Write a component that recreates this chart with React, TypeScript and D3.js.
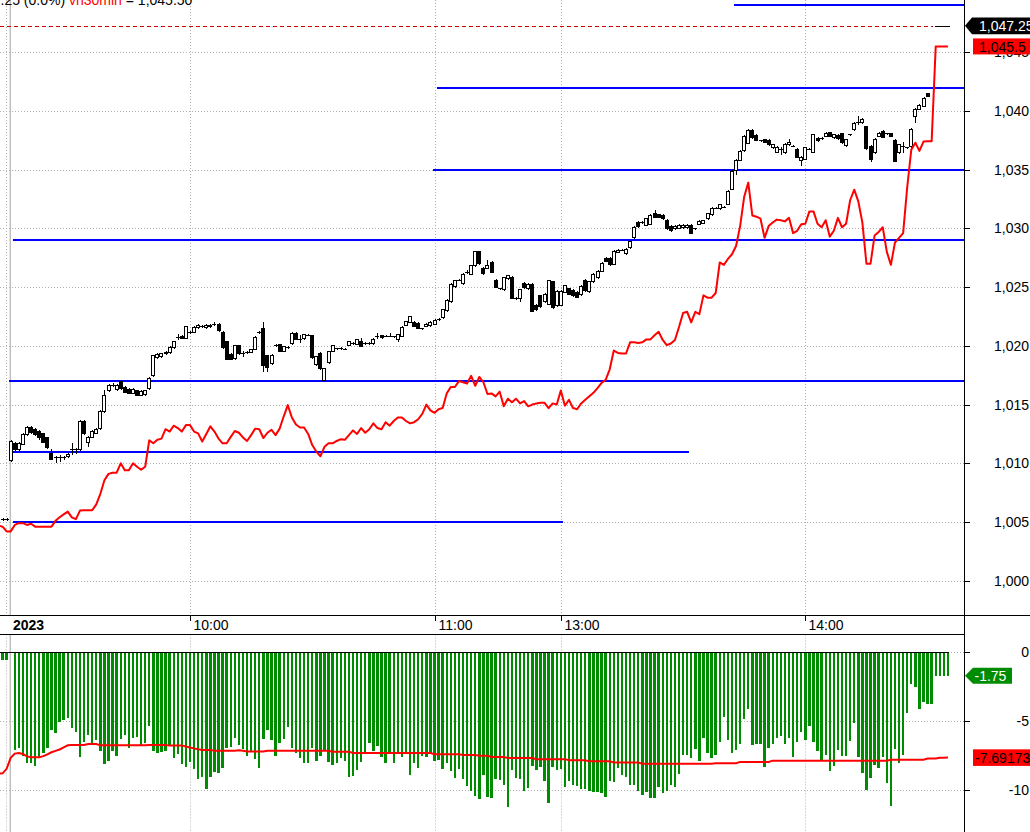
import React from "react";
import * as d3 from "d3";

// ---------- data ----------
const barStart = -2; // index of first candle / histogram bar (previous session bars are negative)
const lineStart = -3; // index of first value of the line series

// [open, high, low, close]
const candles: number[][] = [
  [1005.25, 1005.3, 1005.2, 1005.25],
  [1005.25, 1005.3, 1005.2, 1005.25],
  [1010.3, 1012.0, 1010.2, 1011.9],
  [1011.7, 1011.8, 1011.1, 1011.2],
  [1011.2, 1011.8, 1011.1, 1011.7],
  [1011.65, 1012.6, 1011.6, 1012.5],
  [1012.5, 1013.15, 1012.45, 1013.05],
  [1013.05, 1013.15, 1012.6, 1012.7],
  [1012.9, 1013.0, 1012.45, 1012.5],
  [1012.75, 1012.8, 1012.1, 1012.2],
  [1012.55, 1012.6, 1011.8, 1011.85],
  [1012.2, 1012.25, 1011.3, 1011.4],
  [1010.9, 1011.25, 1010.35, 1010.4],
  [1010.5, 1010.6, 1010.1, 1010.5],
  [1010.5, 1010.7, 1010.2, 1010.5],
  [1010.5, 1010.6, 1010.35, 1010.5],
  [1010.6, 1010.9, 1010.55, 1010.8],
  [1011.2, 1011.7, 1010.8, 1011.2],
  [1011.2, 1011.3, 1010.9, 1011.2],
  [1011.2, 1013.7, 1011.15, 1013.6],
  [1013.6, 1013.65, 1012.5, 1012.55],
  [1011.8, 1012.3, 1011.5, 1012.2],
  [1012.25, 1012.8, 1012.2, 1012.75],
  [1012.6, 1013.0, 1012.55, 1012.95],
  [1013.0, 1014.5, 1012.95, 1014.45],
  [1014.45, 1016.2, 1014.4, 1015.8],
  [1016.2, 1016.75, 1016.15, 1016.7],
  [1016.7, 1016.8, 1016.6, 1016.7],
  [1016.3, 1016.75, 1016.25, 1016.7],
  [1017.0, 1017.1, 1016.35, 1016.4],
  [1016.5, 1016.55, 1016.05, 1016.1],
  [1016.35, 1016.4, 1015.95, 1016.0],
  [1016.0, 1016.4, 1015.95, 1016.35],
  [1016.2, 1016.25, 1015.8, 1015.85],
  [1015.85, 1016.2, 1015.8, 1016.15],
  [1015.9, 1016.25, 1015.85, 1016.2],
  [1016.4, 1017.35, 1016.35, 1017.3],
  [1017.5, 1019.25, 1017.45, 1019.2],
  [1019.05, 1019.35, 1019.0, 1019.3],
  [1019.1, 1019.4, 1019.05, 1019.35],
  [1019.5, 1019.6, 1019.3, 1019.35],
  [1019.45, 1019.95, 1019.4, 1019.9],
  [1019.9, 1020.45, 1019.85, 1020.4],
  [1020.75, 1021.0, 1020.55, 1020.75],
  [1020.85, 1020.9, 1020.65, 1020.7],
  [1020.7, 1021.7, 1020.65, 1021.65],
  [1021.2, 1021.3, 1021.1, 1021.2],
  [1021.2, 1021.65, 1021.15, 1021.6],
  [1021.6, 1021.85, 1021.55, 1021.8],
  [1021.7, 1021.8, 1021.6, 1021.7],
  [1021.6, 1021.85, 1021.55, 1021.8],
  [1021.65, 1021.9, 1021.6, 1021.8],
  [1021.85, 1022.0, 1021.8, 1021.85],
  [1021.9, 1021.95, 1021.3, 1021.35],
  [1021.2, 1021.25, 1019.85, 1019.9],
  [1020.4, 1020.45, 1018.85, 1018.9],
  [1019.3, 1019.35, 1018.85, 1018.9],
  [1018.95, 1020.1, 1018.9, 1020.05],
  [1020.05, 1020.1, 1019.3, 1019.35],
  [1019.35, 1019.55, 1019.15, 1019.35],
  [1019.5, 1019.6, 1019.4, 1019.5],
  [1019.5, 1019.75, 1019.45, 1019.7],
  [1019.75, 1020.8, 1019.7, 1020.75],
  [1021.2, 1021.3, 1021.1, 1021.2],
  [1021.5, 1022.05, 1017.9, 1018.35],
  [1019.2, 1019.25, 1017.9, 1018.2],
  [1018.5, 1019.3, 1018.45, 1019.25],
  [1020.05, 1020.15, 1019.95, 1020.05],
  [1020.15, 1020.2, 1019.55, 1019.6],
  [1019.6, 1020.0, 1019.55, 1019.95],
  [1019.9, 1020.0, 1019.8, 1019.9],
  [1020.25, 1021.15, 1020.2, 1021.1],
  [1021.1, 1021.15, 1020.55, 1020.6],
  [1020.6, 1020.9, 1020.35, 1020.6],
  [1020.65, 1021.05, 1020.6, 1021.0],
  [1020.95, 1021.05, 1020.9, 1020.95],
  [1020.9, 1020.95, 1019.0, 1019.05],
  [1018.45, 1019.15, 1018.4, 1019.1],
  [1019.4, 1019.45, 1018.05, 1018.1],
  [1017.1, 1018.15, 1017.05, 1018.1],
  [1018.6, 1019.6, 1018.55, 1019.55],
  [1019.6, 1020.1, 1019.55, 1020.05],
  [1019.8, 1019.85, 1019.75, 1019.8],
  [1019.8, 1019.9, 1019.7, 1019.8],
  [1019.75, 1019.85, 1019.7, 1019.75],
  [1020.1, 1020.45, 1020.05, 1020.4],
  [1020.25, 1020.3, 1020.2, 1020.25],
  [1020.2, 1020.6, 1020.15, 1020.55],
  [1020.4, 1020.65, 1019.95, 1020.0],
  [1020.25, 1020.3, 1020.2, 1020.25],
  [1020.25, 1020.3, 1020.2, 1020.25],
  [1020.25, 1020.65, 1020.2, 1020.6],
  [1020.85, 1021.1, 1020.7, 1020.85],
  [1020.9, 1020.95, 1020.7, 1020.75],
  [1020.85, 1020.9, 1020.8, 1020.85],
  [1020.85, 1021.1, 1020.8, 1020.85],
  [1020.8, 1020.85, 1020.75, 1020.8],
  [1020.6, 1021.05, 1020.45, 1021.0],
  [1020.85, 1021.65, 1020.8, 1021.6],
  [1021.8, 1022.15, 1021.75, 1022.1],
  [1022.05, 1022.55, 1022.0, 1022.5],
  [1022.05, 1022.1, 1021.65, 1021.7],
  [1021.95, 1022.0, 1021.5, 1021.55],
  [1021.5, 1021.55, 1021.45, 1021.5],
  [1021.7, 1021.95, 1021.65, 1021.9],
  [1021.75, 1022.1, 1021.7, 1022.05],
  [1021.9, 1022.25, 1021.85, 1022.2],
  [1022.3, 1022.4, 1022.2, 1022.3],
  [1022.45, 1023.15, 1022.4, 1023.1],
  [1023.05, 1023.95, 1022.95, 1023.9],
  [1023.8, 1025.35, 1023.75, 1025.3],
  [1025.1, 1025.65, 1025.05, 1025.6],
  [1025.65, 1025.7, 1025.6, 1025.65],
  [1025.35, 1026.2, 1025.3, 1026.15],
  [1026.3, 1026.5, 1026.2, 1026.3],
  [1026.15, 1026.9, 1026.1, 1026.85],
  [1026.85, 1028.1, 1026.8, 1028.05],
  [1028.05, 1028.1, 1027.0, 1027.05],
  [1026.65, 1026.7, 1026.15, 1026.2],
  [1026.65, 1027.3, 1026.6, 1026.9],
  [1027.15, 1027.2, 1026.25, 1026.3],
  [1025.65, 1025.7, 1025.0, 1025.05],
  [1024.9, 1024.95, 1024.8, 1024.9],
  [1024.8, 1025.9, 1024.75, 1025.85],
  [1025.75, 1026.05, 1025.7, 1026.0],
  [1025.9, 1025.95, 1024.05, 1024.1],
  [1024.1, 1024.15, 1024.0, 1024.1],
  [1024.1, 1024.85, 1023.85, 1024.8],
  [1025.35, 1025.4, 1024.95, 1025.0],
  [1024.9, 1025.35, 1024.85, 1025.3],
  [1025.3, 1025.35, 1022.95, 1023.0],
  [1023.5, 1023.55, 1023.05, 1023.1],
  [1024.3, 1024.35, 1023.35, 1023.4],
  [1023.8, 1024.5, 1023.75, 1024.45],
  [1023.6, 1025.65, 1023.55, 1025.6],
  [1025.5, 1025.55, 1023.25, 1023.3],
  [1023.45, 1024.75, 1023.4, 1024.7],
  [1023.5, 1024.75, 1023.45, 1024.7],
  [1024.6, 1025.2, 1024.55, 1025.15],
  [1024.9, 1024.95, 1024.4, 1024.45],
  [1024.75, 1024.8, 1024.25, 1024.3],
  [1024.6, 1024.65, 1024.15, 1024.2],
  [1024.4, 1025.15, 1024.35, 1025.1],
  [1025.65, 1025.7, 1024.7, 1024.75],
  [1024.65, 1025.55, 1024.6, 1025.5],
  [1025.5, 1026.2, 1025.45, 1026.15],
  [1025.85, 1026.45, 1025.8, 1026.4],
  [1026.4, 1027.1, 1026.35, 1027.05],
  [1027.5, 1027.55, 1027.2, 1027.25],
  [1027.5, 1027.55, 1026.9, 1026.95],
  [1027.0, 1028.15, 1026.95, 1028.1],
  [1028.0, 1028.25, 1027.95, 1028.2],
  [1028.2, 1028.25, 1028.15, 1028.2],
  [1027.9, 1028.3, 1027.85, 1028.25],
  [1028.4, 1028.95, 1028.35, 1028.9],
  [1029.25, 1030.2, 1029.2, 1030.15],
  [1030.55, 1030.6, 1030.15, 1030.2],
  [1030.55, 1030.6, 1030.5, 1030.55],
  [1030.3, 1030.9, 1030.25, 1030.85],
  [1030.4, 1031.2, 1030.35, 1031.15],
  [1031.3, 1031.6, 1030.95, 1031.0],
  [1031.2, 1031.25, 1030.95, 1031.0],
  [1031.15, 1031.2, 1030.8, 1030.85],
  [1030.75, 1030.8, 1029.95, 1030.0],
  [1030.2, 1030.25, 1029.8, 1029.85],
  [1030.0, 1030.25, 1029.95, 1030.2],
  [1030.05, 1030.35, 1030.0, 1030.3],
  [1030.1, 1030.35, 1030.05, 1030.3],
  [1030.1, 1030.35, 1030.05, 1030.3],
  [1030.3, 1030.35, 1029.6, 1029.65],
  [1030.0, 1030.05, 1029.95, 1030.0],
  [1030.4, 1030.7, 1030.35, 1030.65],
  [1030.5, 1030.75, 1030.45, 1030.7],
  [1030.85, 1031.35, 1030.8, 1031.3],
  [1031.2, 1031.8, 1031.15, 1031.75],
  [1031.75, 1031.8, 1031.7, 1031.75],
  [1031.7, 1032.1, 1031.65, 1032.05],
  [1031.85, 1031.9, 1031.8, 1031.85],
  [1032.1, 1033.25, 1032.05, 1033.2],
  [1033.4, 1034.95, 1033.35, 1034.9],
  [1035.0, 1035.9, 1034.6, 1035.85],
  [1035.85, 1036.65, 1035.8, 1036.6],
  [1036.65, 1037.95, 1036.6, 1037.9],
  [1037.3, 1038.45, 1037.25, 1038.4],
  [1038.4, 1038.5, 1037.7, 1037.77],
  [1037.98, 1038.05, 1037.5, 1037.55],
  [1037.5, 1037.55, 1037.45, 1037.5],
  [1037.6, 1037.65, 1037.35, 1037.4],
  [1037.55, 1037.6, 1037.1, 1037.15],
  [1036.9, 1037.2, 1036.85, 1037.15],
  [1036.55, 1037.0, 1036.5, 1036.95],
  [1036.8, 1036.95, 1036.3, 1036.8],
  [1036.5, 1037.25, 1036.45, 1037.2],
  [1037.15, 1037.6, 1037.1, 1037.4],
  [1037.05, 1037.1, 1037.0, 1037.05],
  [1036.8, 1036.85, 1036.05, 1036.1],
  [1035.8, 1036.15, 1035.4, 1036.1],
  [1035.95, 1036.95, 1035.9, 1036.9],
  [1036.8, 1036.85, 1036.75, 1036.8],
  [1036.55, 1038.05, 1036.5, 1038.0],
  [1037.7, 1037.75, 1037.45, 1037.5],
  [1037.7, 1037.75, 1037.65, 1037.7],
  [1037.9, 1038.2, 1037.85, 1038.15],
  [1038.2, 1038.25, 1037.85, 1037.9],
  [1037.75, 1038.05, 1037.7, 1038.0],
  [1037.95, 1038.0, 1037.65, 1037.7],
  [1038.1, 1038.15, 1037.3, 1037.35],
  [1037.1, 1037.65, 1037.05, 1037.6],
  [1038.0, 1038.05, 1037.95, 1038.0],
  [1038.45, 1039.05, 1038.4, 1039.0],
  [1039.1, 1039.6, 1038.9, 1039.1],
  [1039.05, 1039.4, 1039.0, 1039.35],
  [1038.7, 1038.75, 1036.8, 1036.85],
  [1037.05, 1037.1, 1035.75, 1035.95],
  [1036.5, 1037.7, 1036.45, 1037.65],
  [1037.9, 1038.2, 1037.85, 1038.1],
  [1038.3, 1038.35, 1037.75, 1037.8],
  [1038.1, 1038.15, 1038.05, 1038.1],
  [1038.1, 1038.15, 1037.85, 1037.9],
  [1037.55, 1037.6, 1035.7, 1035.75],
  [1036.5, 1037.2, 1036.45, 1037.15],
  [1037.0, 1037.4, 1036.5, 1037.0],
  [1036.9, 1036.95, 1036.85, 1036.9],
  [1037.0, 1038.55, 1036.95, 1038.5],
  [1039.6, 1040.25, 1039.05, 1040.2],
  [1040.2, 1040.6, 1040.15, 1040.55],
  [1040.45, 1041.15, 1040.4, 1041.1],
  [1041.5, 1041.55, 1041.25, 1041.3],
];

// red line in the price pane, from index lineStart
const vh30m: number[] = [
  1004.7, 1004.6, 1004.2,
  1004.2, 1004.75, 1004.9, 1004.9, 1004.75, 1004.85, 1004.6, 1004.6, 1004.6, 1004.6,
  1004.6, 1005.1, 1005.4, 1005.65, 1005.88, 1005.4, 1005.24, 1005.97, 1006.0, 1006.0,
  1006.0, 1006.5, 1007.4, 1008.55, 1009.1, 1009.2, 1009.2, 1010.0, 1009.4, 1009.4,
  1010.0, 1009.7, 1009.45, 1009.7, 1011.95, 1011.7, 1012.0, 1012.1, 1012.9, 1012.7,
  1013.2, 1013.0, 1012.7, 1013.25, 1013.25, 1012.7, 1012.55, 1011.85, 1012.5, 1013.15,
  1012.7, 1012.1, 1011.7, 1011.7, 1012.25, 1012.75, 1012.6, 1012.2, 1011.9, 1012.4,
  1012.95, 1012.9, 1012.15, 1012.6, 1012.85, 1012.4, 1012.95, 1014.0, 1014.95, 1013.9,
  1013.3, 1013.05, 1013.05, 1012.5, 1011.55, 1011.0, 1010.6, 1011.4, 1011.7, 1011.7,
  1011.9, 1012.05, 1012.0, 1012.4, 1012.8, 1012.5, 1013.0, 1012.6, 1012.9, 1013.4,
  1013.0, 1012.9, 1013.5, 1013.2, 1013.6, 1013.9, 1013.9, 1013.6, 1013.4, 1013.5,
  1013.75, 1014.2, 1015.0, 1014.5, 1014.3, 1014.6, 1014.7, 1015.95, 1016.5, 1016.5,
  1017.0, 1016.9, 1016.8, 1017.45, 1016.6, 1017.35, 1016.9, 1015.9, 1015.95, 1015.7,
  1016.1, 1014.85, 1015.5, 1015.2, 1015.5, 1015.1, 1015.3, 1014.85, 1015.0, 1015.1,
  1015.15, 1015.15, 1014.7, 1015.1, 1015.0, 1016.2, 1014.9, 1015.4, 1014.7, 1014.6,
  1015.1, 1015.4, 1015.7, 1016.0, 1016.4, 1016.85, 1017.1, 1018.0, 1019.6, 1019.4,
  1019.35, 1019.35, 1020.3, 1020.3, 1020.25, 1020.3, 1020.55, 1020.55, 1020.9, 1021.2,
  1020.5, 1020.06, 1020.2, 1020.5, 1021.6, 1022.8, 1022.9, 1022.0, 1022.9, 1022.7,
  1024.3, 1024.1, 1024.1, 1024.5, 1027.1, 1026.9, 1027.4, 1027.8, 1028.5, 1030.2,
  1032.7, 1033.9, 1031.1, 1031.0, 1030.83, 1029.2, 1030.2, 1030.5, 1030.75, 1030.7,
  1030.6, 1030.9, 1029.6, 1029.8, 1030.35, 1030.4, 1031.45, 1031.45, 1030.4, 1030.1,
  1030.7, 1029.3, 1029.8, 1030.9, 1030.1, 1030.4, 1032.4, 1033.3, 1032.3, 1030.5,
  1027.0, 1027.0, 1029.4, 1029.7, 1030.1, 1028.0, 1026.9, 1028.8, 1029.2, 1029.6,
  1033.5, 1036.7, 1037.3, 1036.6, 1037.4, 1037.43, 1037.43, 1045.5, 1045.5, 1045.5,
  1045.5,
];

// histogram in the lower pane, from index barStart (null = no bar)
const hist: (number | null)[] = [
  -0.62, -0.62,
  null, -7.14, -7.02, -7.57, -8.06, -8.06, -8.3, -7.62, -7.33, -6.97,
  -5.69, -5.88, -5.08, -4.96, -4.84, -5.52, -5.81, -7.62, -6.53, -6.05,
  -6.7, -6.41, -7.19, -8.15, -7.91, -7.19, -7.57, -6.34, -6.05, -6.97,
  -6.24, -6.17, -6.78, -6.61, -5.4, -7.19, -7.33, -7.26, -7.19, -6.85,
  -7.69, -7.43, -8.15, -8.35, -7.98, -8.49, -9.26, -9.07, -9.94, -9.07,
  -8.71, -8.78, -8.42, -7.02, -6.9, -6.29, -6.78, -7.09, -7.57, -7.26,
  -7.81, -8.42, -6.32, -5.69, -6.41, -7.57, -6.65, -6.36, -5.45, -6.97,
  -7.33, -7.69, -8.1, -8.06, -7.02, -7.91, -7.55, -7.14, -7.98, -8.25,
  -8.1, -7.74, -7.91, -9.07, -9.0, -8.59, -7.98, -7.38, -6.61, -7.19,
  -6.85, -7.62, -8.06, -7.38, -8.06, -7.38, -7.62, -7.38, -8.95, -8.06,
  -8.42, -7.57, -7.62, -7.38, -7.91, -7.86, -8.49, -8.06, -8.64, -9.14,
  -8.49, -9.21, -9.72, -10.08, -10.47, -10.67, -8.95, -10.52, -10.59, -9.21,
  -9.31, -9.67, -11.24, -8.59, -9.14, -9.21, -10.08, -9.87, -8.3, -8.59,
  -8.35, -9.38, -10.95, -8.35, -8.59, -8.51, -9.79, -9.38, -9.67, -9.72,
  -9.94, -9.96, -10.08, -10.16, -10.16, -10.28, -10.52, -9.38, -9.46, -8.42,
  -8.95, -9.07, -9.67, -9.67, -10.08, -10.4, -10.16, -10.59, -10.59, -9.79,
  -10.28, -10.08, -9.67, -9.79, -8.88, -7.5, -7.5, -7.69, -7.07, -7.91,
  -6.24, -7.33, -7.69, -7.5, -6.53, -4.72, -6.41, -7.33, -7.14, -6.7,
  -4.89, -4.14, -6.78, -6.7, -6.7, -8.35, -6.97, -6.7, -6.24, -6.12,
  -6.7, -6.24, -7.62, -6.53, -5.81, -6.41, -5.37, -6.58, -7.19, -7.91,
  -7.5, -8.64, -8.27, -7.14, -7.55, -7.55, -6.46, -5.16, -7.62, -8.78,
  -10.04, -9.14, -8.22, -8.42, -7.62, -9.5, -11.17, -7.07, -8.1, -7.5,
  -4.48, -2.36, -2.55, -4.14, -3.64, -3.83, -3.83, -1.75, -1.75, -1.75,
  -1.75,
];

// red signal line in the lower pane, from index lineStart
const signal: number[] = [
  -8.85, -8.83, -8.5,
  -7.7, -7.4, -7.35, -7.43, -7.6, -7.67, -7.67, -7.67, -7.58, -7.45,
  -7.3, -7.2, -7.1, -6.95, -6.8, -6.78, -6.78, -6.78, -6.78, -6.7,
  -6.7, -6.7, -6.8, -6.8, -6.8, -6.8, -6.8, -6.8, -6.8, -6.8,
  -6.8, -6.8, -6.8, -6.8, -6.78, -6.78, -6.78, -6.78, -6.78, -6.82,
  -6.82, -6.82, -6.82, -6.88, -6.95, -7.02, -7.08, -7.13, -7.13, -7.13,
  -7.2, -7.2, -7.2, -7.2, -7.2, -7.2, -7.15, -7.2, -7.25, -7.25,
  -7.25, -7.25, -7.25, -7.2, -7.2, -7.2, -7.2, -7.2, -7.2, -7.2,
  -7.2, -7.2, -7.2, -7.2, -7.2, -7.2, -7.2, -7.2, -7.2, -7.26,
  -7.26, -7.26, -7.26, -7.26, -7.35, -7.35, -7.35, -7.35, -7.35, -7.35,
  -7.35, -7.35, -7.35, -7.35, -7.35, -7.35, -7.35, -7.35, -7.35, -7.35,
  -7.35, -7.35, -7.35, -7.35, -7.45, -7.45, -7.45, -7.45, -7.45, -7.45,
  -7.45, -7.5, -7.5, -7.5, -7.5, -7.56, -7.56, -7.56, -7.64, -7.64,
  -7.64, -7.64, -7.72, -7.72, -7.72, -7.72, -7.72, -7.72, -7.72, -7.8,
  -7.8, -7.8, -7.8, -7.8, -7.8, -7.8, -7.8, -7.88, -7.88, -7.88,
  -7.88, -7.88, -7.96, -7.96, -7.96, -7.96, -7.96, -7.96, -8.04, -8.04,
  -8.04, -8.04, -8.04, -8.04, -8.04, -8.13, -8.13, -8.13, -8.13, -8.13,
  -8.13, -8.13, -8.13, -8.13, -8.13, -8.13, -8.13, -8.13, -8.13, -8.13,
  -8.13, -8.13, -8.13, -8.1, -8.1, -8.1, -8.1, -8.1, -8.1, -8.0,
  -8.0, -8.0, -8.0, -8.0, -8.0, -8.0, -8.0, -7.91, -7.91, -7.91,
  -7.91, -7.91, -7.91, -7.91, -7.91, -7.91, -7.91, -7.91, -7.91, -7.91,
  -7.91, -7.91, -7.91, -7.91, -7.91, -7.91, -7.91, -7.91, -7.91, -7.91,
  -7.91, -7.91, -7.91, -7.91, -7.91, -7.91, -7.84, -7.84, -7.84, -7.84,
  -7.84, -7.84, -7.84, -7.84, -7.84, -7.76, -7.76, -7.76, -7.7, -7.7,
  -7.69,
];

// support / resistance levels
const levelPrices = [1049, 1042, 1035, 1029, 1017, 1011, 1005];
const levelFrom = [178, 105, 104, 1, 0, 0, 1];
const levelTo: (number | null)[] = [null, null, null, null, null, 166, 135];

const priceTicks = [1000, 1005, 1010, 1015, 1020, 1025, 1030, 1035, 1040, 1045];
const lowerTicks = [0, -5, -10];
const timeTickIndex = [44, 104, 135, 195];
const timeTickLabels = ["10:00", "11:00", "13:00", "14:00"];
const prevSessionGrid = -1.2;
const sessionBreak = -0.1;
const yearLabel = "2023";

const lastPrice = 1047.25;
const lastPriceText = "1,047.25";
const vhLastText = "1,045.5";
const histLastText = "-1.75";
const signalLastText = "-7.69173";
const headerA = ".25 (0.0%) ";
const headerName = "vh30min";
const headerB = " = 1,045.50";

// ---------- drawing ----------
const W = 1030;
const H = 832;
const AX = 964.5;
const MAIN_BOTTOM = 615.5;
const STRIP_BOTTOM = 634.5;
const FONT = "Arial, 'Liberation Sans', sans-serif";
const GREEN = "rgb(0,140,0)";

export default function App() {
  const x = d3.scaleLinear().domain([0, 230]).range([10.7, 947.95]);
  const yP = d3.scaleLinear().domain([1000, 1040]).range([580.7, 111]);
  const yL = d3.scaleLinear().domain([0, -10]).range([651.5, 789.5]);
  const fmt = d3.format(",");
  const px = (v: number) => Math.round(v) + 0.5;

  const redLine = d3
    .line<number>()
    .x((_, k) => x(lineStart + k))
    .y((d) => yP(d));
  const sigLine = d3
    .line<number>()
    .x((_, k) => x(lineStart + k))
    .y((d) => yL(d));

  const gridStyle = { stroke: "#b0b0b0", strokeWidth: 1, strokeDasharray: "1,2" };

  const vGrid = [prevSessionGrid, ...timeTickIndex];

  const yLast = yP(lastPrice);
  const yVh = yP(vh30m[vh30m.length - 1]);
  const yHl = yL(hist[hist.length - 1] as number);
  const ySg = yL(signal[signal.length - 1]);

  return (
    <svg
      width={W}
      height={H}
      style={{ position: "absolute", left: 0, top: 0, background: "#fff" }}
      fontFamily={FONT}
    >
      <defs>
        <clipPath id="mainClip">
          <rect x={0} y={0} width={AX} height={MAIN_BOTTOM} />
        </clipPath>
        <clipPath id="lowClip">
          <rect x={0} y={STRIP_BOTTOM + 0.5} width={AX} height={H - STRIP_BOTTOM} />
        </clipPath>
      </defs>
      <rect x={0} y={0} width={W} height={H} fill="#fff" />

      {/* horizontal grid - price pane */}
      {priceTicks.map((t) => (
        <line key={"hg" + t} x1={0} x2={AX} y1={px(yP(t))} y2={px(yP(t))} {...gridStyle} />
      ))}
      {/* horizontal grid - lower pane */}
      {lowerTicks.map((t) => (
        <line key={"lg" + t} x1={0} x2={AX} y1={px(yL(t))} y2={px(yL(t))} {...gridStyle} />
      ))}
      {/* vertical grid */}
      {vGrid.map((i) => (
        <g key={"vg" + i}>
          <line x1={px(x(i))} x2={px(x(i))} y1={0} y2={MAIN_BOTTOM} {...gridStyle} />
          <line x1={px(x(i))} x2={px(x(i))} y1={STRIP_BOTTOM} y2={H} {...gridStyle} />
        </g>
      ))}
      {/* session break */}
      <line x1={x(sessionBreak)} x2={x(sessionBreak)} y1={0} y2={MAIN_BOTTOM} stroke="#c0c0c0" strokeWidth={1.5} />
      <line x1={x(sessionBreak)} x2={x(sessionBreak)} y1={STRIP_BOTTOM} y2={H} stroke="#c0c0c0" strokeWidth={1.5} />

      {/* price pane */}
      <g clipPath="url(#mainClip)">
        {/* last price line */}
        <line x1={0} x2={933} y1={px(yLast)} y2={px(yLast)} stroke="#cc0000" strokeDasharray="4,3" shapeRendering="crispEdges" />
        <line x1={935} x2={950} y1={px(yLast)} y2={px(yLast)} stroke="#000" shapeRendering="crispEdges" />

        {/* levels */}
        {levelPrices.map((p, k) => {
          const to = levelTo[k];
          return (
            <line
              key={"lv" + k}
              x1={x(levelFrom[k]) - 2}
              x2={to === null ? AX : x(to) + 2}
              y1={Math.round(yP(p))}
              y2={Math.round(yP(p))}
              stroke="#0000ff"
              strokeWidth={2}
              shapeRendering="crispEdges"
            />
          );
        })}

        {/* candles */}
        {candles.map((c, k) => {
          const i = barStart + k;
          const cx = Math.round(x(i));
          const [o, h, l, cl] = c;
          const top = px(yP(Math.max(o, cl)));
          const bot = px(yP(Math.min(o, cl)));
          const hi = px(yP(h));
          const lo = px(yP(l));
          const up = cl >= o;
          return (
            <g key={"c" + k} shapeRendering="crispEdges">
              <line x1={cx + 0.5} x2={cx + 0.5} y1={hi - 0.5} y2={lo + 0.5} stroke="#000" />
              {bot - top < 1 ? (
                <line x1={cx - 2} x2={cx + 2} y1={top} y2={top} stroke="#000" />
              ) : (
                <rect x={cx - 1.5} y={top} width={3} height={bot - top} fill={up ? "#fff" : "#000"} stroke="#000" />
              )}
            </g>
          );
        })}

        {/* red line */}
        <path d={redLine(vh30m) || ""} fill="none" stroke="#ff0000" strokeWidth={2} strokeLinejoin="round" />
      </g>

      {/* lower pane */}
      <g clipPath="url(#lowClip)">
        {hist.map((v, k) => {
          if (v === null) return null;
          const i = barStart + k;
          const y0 = yL(0);
          const y1 = yL(v);
          return (
            <rect
              key={"h" + k}
              x={x(i) - 1.2}
              y={y0}
              width={2.4}
              height={y1 - y0}
              fill={GREEN}
              shapeRendering="crispEdges"
            />
          );
        })}
        <line x1={0} x2={x(230) + 1.5} y1={px(yL(0))} y2={px(yL(0))} stroke="#000" shapeRendering="crispEdges" />
        <path d={sigLine(signal) || ""} fill="none" stroke="#ff0000" strokeWidth={2} />
      </g>

      {/* frame lines */}
      <line x1={0} x2={W} y1={MAIN_BOTTOM} y2={MAIN_BOTTOM} stroke="#000" shapeRendering="crispEdges" />
      <line x1={0} x2={AX} y1={STRIP_BOTTOM} y2={STRIP_BOTTOM} stroke="#000" shapeRendering="crispEdges" />
      <line x1={AX} x2={AX} y1={0} y2={H} stroke="#000" shapeRendering="crispEdges" />

      {/* x-axis labels */}
      {timeTickIndex.map((i, k) => (
        <g key={"xt" + i}>
          <line x1={px(x(i))} x2={px(x(i))} y1={MAIN_BOTTOM} y2={MAIN_BOTTOM + 5} stroke="#000" shapeRendering="crispEdges" />
          <text x={px(x(i)) + 3} y={629.5} fontSize={14} fill="#000">
            {timeTickLabels[k]}
          </text>
        </g>
      ))}
      <text x={13} y={629.5} fontSize={14} fontWeight="bold" fill="#000">
        {yearLabel}
      </text>

      {/* right axis - price */}
      {priceTicks.map((t) => (
        <g key={"pt" + t}>
          <line x1={AX} x2={AX + 5} y1={px(yP(t))} y2={px(yP(t))} stroke="#000" shapeRendering="crispEdges" />
          <text x={1029} y={yP(t) + 5} fontSize={14} textAnchor="end" fill="#000">
            {fmt(t)}
          </text>
        </g>
      ))}
      {/* right axis - lower */}
      {lowerTicks.map((t) => (
        <g key={"lt" + t}>
          <line x1={AX} x2={AX + 5} y1={px(yL(t))} y2={px(yL(t))} stroke="#000" shapeRendering="crispEdges" />
          <text x={1029} y={yL(t) + 5} fontSize={14} textAnchor="end" fill="#000">
            {t}
          </text>
        </g>
      ))}

      {/* value tags */}
      <path
        d={`M965,${yLast} L972,${yLast - 8.3} L1032,${yLast - 8.3} L1032,${yLast + 8.3} L972,${yLast + 8.3} Z`}
        fill="#000"
      />
      <text x={979} y={yLast + 5.2} fontSize={14} fill="#fff">
        {lastPriceText}
      </text>
      <rect x={973} y={yVh - 8} width={60} height={16} fill="#ff0000" />
      <text x={979} y={yVh + 5.2} fontSize={14} fill="#000">
        {vhLastText}
      </text>
      <path
        d={`M965,${yHl} L973,${yHl - 8} L1012,${yHl - 8} L1012,${yHl + 8} L973,${yHl + 8} Z`}
        fill={GREEN}
      />
      <text x={974.5} y={yHl + 5.2} fontSize={14} fill="#fff">
        {histLastText}
      </text>
      <rect x={973} y={ySg - 8.3} width={60} height={16.6} fill="#ff0000" />
      <text x={975} y={ySg + 5.2} fontSize={14} fill="#000">
        {signalLastText}
      </text>

      {/* header (clipped at the top) */}
      <text x={0.5} y={5} fontSize={14} fill="#000">
        <tspan>{headerA}</tspan>
        <tspan fill="#ff0000">{headerName}</tspan>
        <tspan>{headerB}</tspan>
      </text>
    </svg>
  );
}
